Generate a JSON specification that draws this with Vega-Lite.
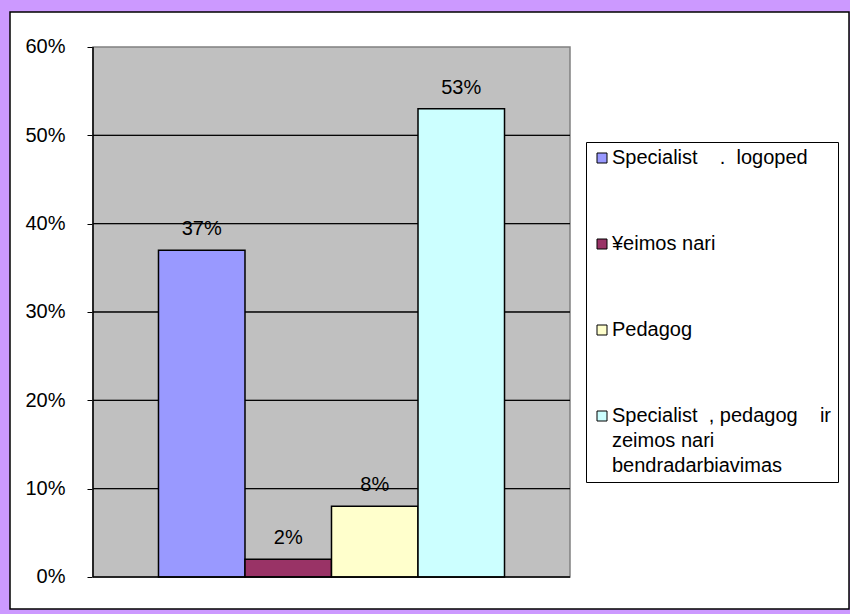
{
  "$schema": "https://vega.github.io/schema/vega-lite/v6.json",
  "width": 839,
  "height": 597,
  "autosize": "none",
  "padding": {"left": 10, "top": 12, "right": 1, "bottom": 5},
  "background": "#cc99ff",
  "config": {
    "view": {"fill": "white", "stroke": "black", "strokeWidth": 1.5},
    "font": "Liberation Sans"
  },
  "datasets": {
    "shares": [
      {"cat": "all", "series": "Specialist\u00a0\u00a0\u00a0\u00a0.\u00a0\u00a0logoped", "value": 0.37},
      {"cat": "all", "series": "¥eimos nari", "value": 0.02},
      {"cat": "all", "series": "Pedagog", "value": 0.08},
      {"cat": "all", "series": "Specialist\u00a0\u00a0, pedagog\u00a0\u00a0\u00a0\u00a0ir|zeimos nari|bendradarbiavimas", "value": 0.53}
    ],
    "plot": [{"cat": "all"}],
    "grid": [
      {"cat": "all", "level": 0.1},
      {"cat": "all", "level": 0.2},
      {"cat": "all", "level": 0.3},
      {"cat": "all", "level": 0.4},
      {"cat": "all", "level": 0.5}
    ]
  },
  "layer": [
    {
      "data": {"name": "plot"},
      "mark": {"type": "rect", "fill": "#c0c0c0", "stroke": "#808080", "strokeWidth": 1.5},
      "encoding": {
        "x": {"field": "cat", "type": "nominal", "axis": null,
              "scale": {"type": "band", "paddingInner": 0, "paddingOuter": 0.37946, "align": 0.22928}},
        "y": {"datum": 0.6, "type": "quantitative",
              "scale": {"domain": [-0.03623, 0.63962], "nice": false, "zero": false},
              "axis": {"values": [0, 0.1, 0.2, 0.3, 0.4, 0.5, 0.6], "format": ".0%", "offset": -83,
                       "domain": false, "grid": false, "title": null, "tickColor": "black", "tickSize": 6,
                       "labelFontSize": 20, "labelColor": "black", "labelFont": "Liberation Sans", "labelPadding": 22}},
        "y2": {"datum": 0}
      }
    },
    {
      "data": {"name": "grid"},
      "mark": {"type": "rect", "fill": null, "stroke": "black", "strokeWidth": 1},
      "encoding": {
        "x": {"field": "cat", "type": "nominal"},
        "y": {"field": "level", "type": "quantitative"},
        "y2": {"field": "level"}
      }
    },
    {
      "data": {"name": "plot"},
      "mark": {"type": "rule", "color": "black", "strokeWidth": 1.5},
      "encoding": {
        "x": {"field": "cat", "type": "nominal", "bandPosition": 0},
        "y": {"datum": 0, "type": "quantitative"},
        "y2": {"datum": 0.6}
      }
    },
    {
      "data": {"name": "shares"},
      "mark": {"type": "bar", "stroke": "black", "strokeWidth": 1.5},
      "encoding": {
        "x": {"field": "cat", "type": "nominal"},
        "xOffset": {"field": "series", "type": "nominal", "sort": null,
                    "scale": {"type": "band", "paddingInner": 0, "paddingOuter": 0.757}},
        "y": {"field": "value", "type": "quantitative"},
        "color": {
          "field": "series", "type": "nominal", "sort": null,
          "scale": {"range": ["#9999ff", "#993366", "#ffffcc", "#ccffff"]},
          "legend": {
            "title": null, "orient": "none", "legendX": 576, "legendY": 130,
            "fillColor": "white", "strokeColor": "black", "padding": 6,
            "symbolType": "square", "symbolSize": 100, "symbolStrokeColor": "black", "symbolStrokeWidth": 1,
            "labelFontSize": 20, "labelFont": "Liberation Sans", "labelColor": "black", "labelLimit": 400,
            "labelOffset": 0, "rowPadding": 66,
            "labelExpr": "split(datum.label, '|')",
            "encode": {"labels": {"update": {"lineHeight": {"value": 25}}}}
          }
        }
      }
    },
    {
      "data": {"name": "plot"},
      "mark": {"type": "rect", "fill": null, "stroke": "black", "strokeWidth": 1.5},
      "encoding": {
        "x": {"field": "cat", "type": "nominal"},
        "y": {"datum": 0, "type": "quantitative"},
        "y2": {"datum": 0}
      }
    },
    {
      "data": {"name": "shares"},
      "mark": {"type": "text", "baseline": "alphabetic", "dy": -15, "fontSize": 20, "color": "black"},
      "encoding": {
        "x": {"field": "cat", "type": "nominal"},
        "xOffset": {"field": "series", "type": "nominal", "sort": null},
        "y": {"field": "value", "type": "quantitative"},
        "text": {"field": "value", "type": "quantitative", "format": ".0%"}
      }
    }
  ]
}
